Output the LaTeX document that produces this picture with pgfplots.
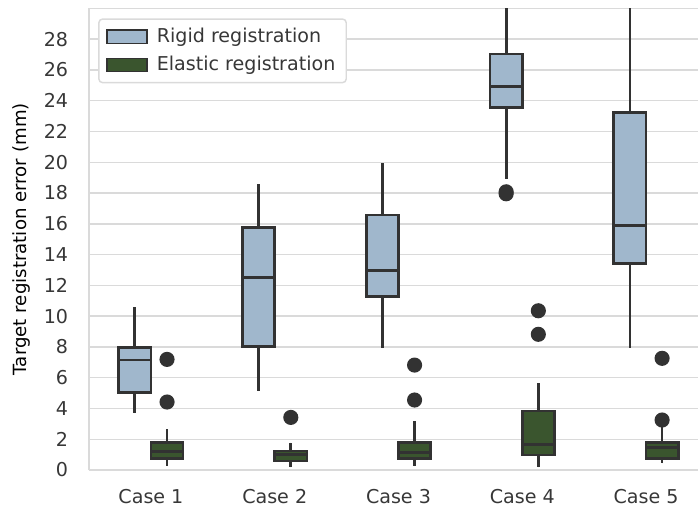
\documentclass[border=0pt]{standalone}
\usepackage{fontspec}
\setmainfont{DejaVu Sans}
\usepackage{pgfplots}
\pgfplotsset{compat=1.18}
\usepgfplotslibrary{statistics}

\definecolor{rigid}{RGB}{160,183,204}
\definecolor{elastic}{RGB}{58,85,46}
\definecolor{edge}{RGB}{50,50,50}
\definecolor{gridc}{RGB}{218,218,218}
\definecolor{txt}{RGB}{55,55,55}

\pgfplotsset{
  tre box/.style={
    boxplot/draw direction=y,
    boxplot/whisker extend=0,
    boxplot/box extend=0.26,
    boxplot/every median/.style={line width=1.6pt},
    solid, draw=edge, line width=1.5pt,
    mark=*, mark size=3.4pt,
    mark options={fill=edge, draw=none},
  },
  rigid box/.style={tre box, fill=rigid},
  elastic box/.style={tre box, fill=elastic},
  patchleg/.style={legend image code/.code={\draw[##1, sharp corners] (0pt,-3.6pt) rectangle (22pt,3.6pt);}},
}

\begin{document}
\begin{tikzpicture}
\begin{axis}[
    at={(0,0)}, anchor=south west,
    scale only axis,
    width=335pt, height=254pt,
    xmin=-0.5, xmax=4.42,
    ymin=0, ymax=30,
    xtick={0,1,2,3,4},
    xticklabels={Case 1, Case 2, Case 3, Case 4, Case 5},
    ytick={0,2,...,28},
    /pgf/number format/assume math mode=true,
    major tick length=0pt,
    ymajorgrids=true,
    grid style={gridc, line width=0.8pt},
    axis x line=box, axis y line=left,
    axis line style={-, gridc, line width=0.9pt},
    tick label style={font=\fontsize{10.5}{12}\selectfont, text=txt},
    yticklabel style={xshift=-8pt},
    xticklabel style={yshift=-7pt},
    ylabel={Target registration error (mm)},
    ylabel style={font=\fontsize{10.5}{12}\selectfont, text=txt},
    every axis y label/.style={at={(axis description cs:0,0.5)}, xshift=-37pt, rotate=90, anchor=center},
    legend style={at={(axis description cs:0,1)}, anchor=north west,
      xshift=5pt, yshift=-5.5pt, draw=gridc, line width=0.8pt, rounded corners=2pt,
      font=\fontsize{10.5}{12}\selectfont, text=txt, row sep=2pt, column sep=3pt,
      inner xsep=4pt, inner ysep=3pt},
    legend cell align=left,
  ]

  \addlegendimage{patchleg, fill=rigid, draw=edge, line width=0.9pt}
  \addlegendentry{Rigid registration}
  \addlegendimage{patchleg, fill=elastic, draw=edge, line width=0.9pt}
  \addlegendentry{Elastic registration}

  % Case 1
  \addplot[rigid box, boxplot prepared={draw position=-0.13,
    lower whisker=3.68, lower quartile=5.02, median=7.15,
    upper quartile=7.95, upper whisker=10.61}] coordinates {};
  \addplot[elastic box, boxplot prepared={draw position=0.13,
    lower whisker=0.26, lower quartile=0.74, median=1.23,
    upper quartile=1.80, upper whisker=2.66}]
    table[row sep=\\, y index=0] {7.19\\ 4.42\\};

  % Case 2
  \addplot[rigid box, boxplot prepared={draw position=0.87,
    lower whisker=5.13, lower quartile=8.01, median=12.52,
    upper quartile=15.74, upper whisker=18.56}] coordinates {};
  \addplot[elastic box, boxplot prepared={draw position=1.13,
    lower whisker=0.17, lower quartile=0.58, median=1.00,
    upper quartile=1.23, upper whisker=1.78}]
    table[row sep=\\, y index=0] {3.42\\};

  % Case 3
  \addplot[rigid box, boxplot prepared={draw position=1.87,
    lower whisker=7.91, lower quartile=11.26, median=12.95,
    upper quartile=16.57, upper whisker=19.92}] coordinates {};
  \addplot[elastic box, boxplot prepared={draw position=2.13,
    lower whisker=0.26, lower quartile=0.76, median=1.15,
    upper quartile=1.80, upper whisker=3.18}]
    table[row sep=\\, y index=0] {6.82\\ 4.55\\};

  % Case 4
  \addplot[rigid box, boxplot prepared={draw position=2.87,
    lower whisker=18.90, lower quartile=23.54, median=24.95,
    upper quartile=27.03, upper whisker=31.0}]
    table[row sep=\\, y index=0] {18.08\\ 17.95\\};
  \addplot[elastic box, boxplot prepared={draw position=3.13,
    lower whisker=0.17, lower quartile=0.97, median=1.67,
    upper quartile=3.83, upper whisker=5.63}]
    table[row sep=\\, y index=0] {10.35\\ 8.82\\};

  % Case 5
  \addplot[rigid box, boxplot prepared={draw position=3.87,
    lower whisker=7.95, lower quartile=13.43, median=15.87,
    upper quartile=23.22, upper whisker=32.0}] coordinates {};
  \addplot[elastic box, boxplot prepared={draw position=4.13,
    lower whisker=0.43, lower quartile=0.76, median=1.47,
    upper quartile=1.78, upper whisker=3.00}]
    table[row sep=\\, y index=0] {7.26\\ 3.25\\};
\end{axis}
\pgfresetboundingbox
\useasboundingbox (-49pt,-21.5pt) rectangle (335pt,258.6pt);
\end{tikzpicture}
\end{document}
